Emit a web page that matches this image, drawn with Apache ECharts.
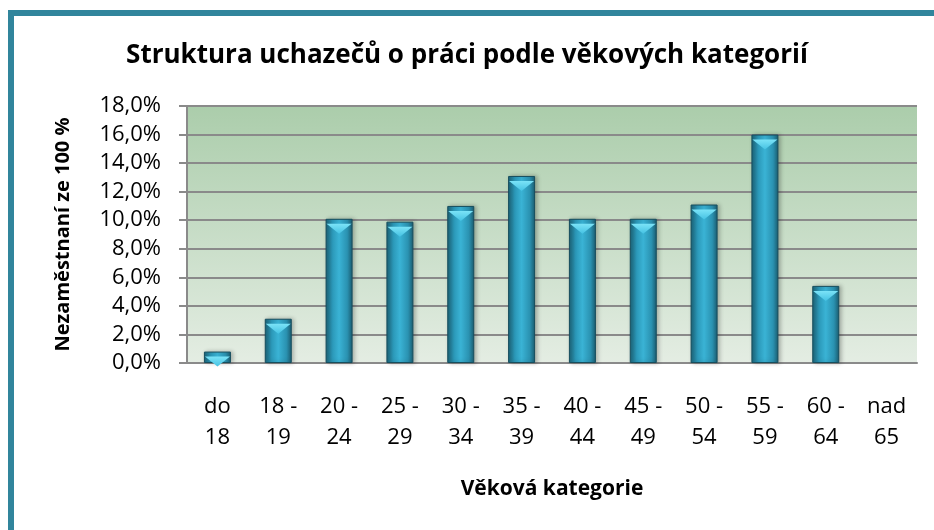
<!DOCTYPE html>
<html>
<head>
<meta charset="utf-8">
<script src="https://cdn.jsdelivr.net/npm/echarts@6/dist/echarts.min.js"></script>
<style>
    html, body {margin: 0; padding: 0; background: #fff; overflow: hidden; width: 934px; height: 530px;}
    #frame {
        position: absolute; left: 8px; top: 10px; width: 960px; height: 560px;
        border-left: 6px solid #31859c; border-top: 6px solid #31859c;
    }
    #chart {position: absolute; left: 0; top: 0; width: 934px; height: 530px;}
</style>
</head>
<body>
<div id="frame"></div>
<div id="chart"></div>
<script>
var titleText = 'Struktura uchazečů o práci podle věkových kategorií';
var yName = 'Nezaměstnaní ze 100 %';
var xName = 'Věková kategorie';
var categories = ['do\n18', '18 -\n19', '20 -\n24', '25 -\n29', '30 -\n34', '35 -\n39',
    '40 -\n44', '45 -\n49', '50 -\n54', '55 -\n59', '60 -\n64', 'nad\n65'];
var values = [0.8, 3.1, 10.1, 9.9, 11.0, 13.1, 10.1, 10.1, 11.1, 16.0, 5.4, null];

var font = '"Open Sans", sans-serif';

function pct(v) {
    return v.toFixed(1).replace('.', ',') + '%';
}

var chart = echarts.init(document.getElementById('chart'));
var option = {
    animation: false,
    title: {
        text: titleText,
        left: 'center',
        top: 38,
        textStyle: {fontFamily: font, fontSize: 26, fontWeight: 'bold', color: '#000'}
    },
    grid: {
        left: 187, right: 17, top: 106, bottom: 167,
        show: true,
        borderWidth: 0,
        backgroundColor: new echarts.graphic.LinearGradient(0, 0, 0, 1, [
            {offset: 0, color: '#abcdab'},
            {offset: 1, color: '#e4ede3'}
        ])
    },
    xAxis: {
        type: 'category',
        data: categories,
        name: xName,
        nameLocation: 'middle',
        nameGap: 116,
        nameTextStyle: {fontFamily: font, fontSize: 21, fontWeight: 'bold', color: '#000'},
        axisLine: {lineStyle: {color: '#8a8a8a', width: 2}},
        axisTick: {show: false},
        axisLabel: {
            interval: 0, margin: 28, fontFamily: font, fontSize: 22,
            color: '#000', lineHeight: 31
        }
    },
    yAxis: {
        type: 'value',
        min: 0, max: 18, interval: 2,
        name: yName,
        nameLocation: 'middle',
        nameGap: 114,
        nameTextStyle: {fontFamily: font, fontSize: 20, fontWeight: 'bold', color: '#000'},
        axisLine: {show: true, lineStyle: {color: '#8a8a8a', width: 2}},
        axisTick: {show: true, length: 8, lineStyle: {color: '#8a8a8a', width: 2}},
        splitLine: {lineStyle: {color: '#8a8a8a', width: 2}},
        axisLabel: {
            margin: 26, fontFamily: font, fontSize: 22, color: '#000',
            formatter: pct
        }
    },
    series: [
        {
            type: 'bar',
            data: values,
            barWidth: 27,
            itemStyle: {
                borderColor: '#164e5e',
                borderWidth: 1,
                shadowColor: 'rgba(0,0,0,0.25)',
                shadowBlur: 4,
                shadowOffsetX: 2,
                color: new echarts.graphic.LinearGradient(0, 0, 1, 0, [
                    {offset: 0, color: '#1c6377'},
                    {offset: 0.25, color: '#2b98b8'},
                    {offset: 0.5, color: '#3ab3d5'},
                    {offset: 0.8, color: '#2a92b1'},
                    {offset: 1, color: '#1b5c70'}
                ])
            }
        },
        {
            // light bevel on top of each bar
            type: 'pictorialBar',
            data: values,
            symbol: 'path://M0,0 L10,0 L5,4 Z',
            symbolPosition: 'end',
            symbolSize: [25, 10],
            symbolOffset: [0, '50%'],
            z: 3,
            itemStyle: {
                color: new echarts.graphic.LinearGradient(0, 0, 0, 1, [
                    {offset: 0, color: '#7be3f7'},
                    {offset: 1, color: '#45c2e3'}
                ])
            }
        }
    ]
};
chart.setOption(option);
</script>
</body>
</html>
